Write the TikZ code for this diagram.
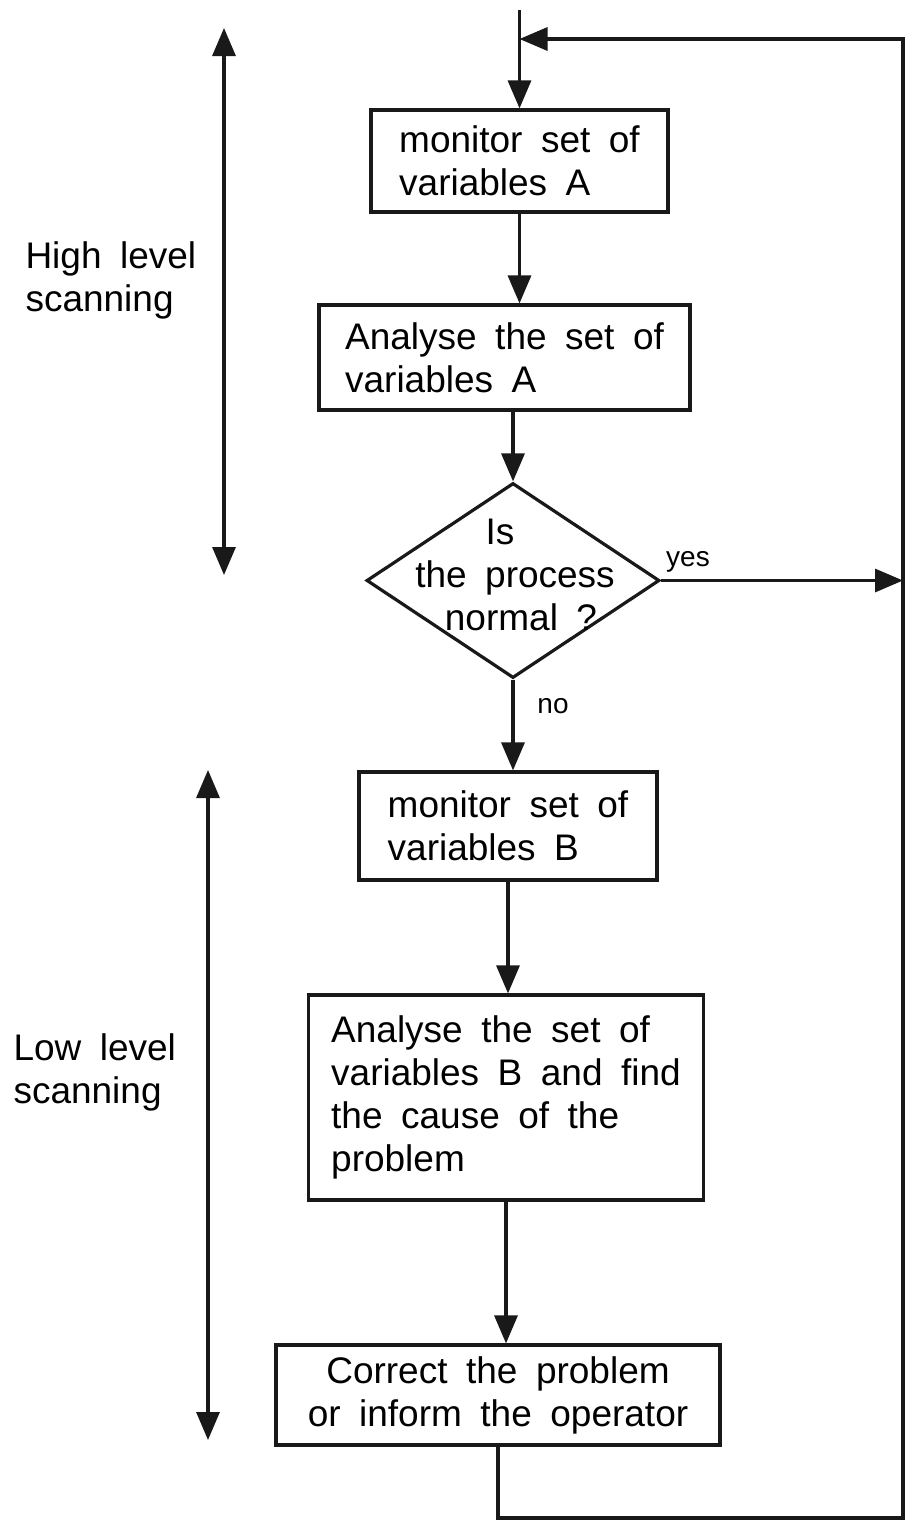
\documentclass[tikz,border=0pt]{standalone}
\usepackage{fontspec}
\setmainfont{Liberation Sans}[WordSpace=1.8]
\usetikzlibrary{arrows.meta,shapes.geometric}

\begin{document}
\begin{tikzpicture}[x=1pt,y=1pt,
  every node/.style={font=\fontsize{37}{43}\selectfont},
  line/.style={line width=3.3pt, draw=black!90},
  tip/.tip={Triangle[length=28pt,width=23pt]},
  arr/.style={line, -tip},
  dbl/.style={line, tip-tip},
  box/.style={draw=black!90, line width=3.2pt, rectangle, inner sep=0pt, align=left},
  dec/.style={draw=black!90, line width=3.2pt, diamond, inner sep=0pt},
  small/.style={font=\fontsize{28}{34}\selectfont},
]
\useasboundingbox (0,0) rectangle (914,-1521);

% process boxes and decision
\node[box, minimum width=297pt, minimum height=102pt] (mA) at (519.5,-161) {monitor set of\\variables A};
\node[box, minimum width=371pt, minimum height=105pt] (aA) at (504.5,-357.5) {Analyse the set of\\variables A};
\node[dec, minimum width=293pt, minimum height=195pt] (q) at (513,-580.5) {};
\node[align=center] (qt) at ([shift={(2,6)}]q.center) {Is\kern30pt\\the process\\\kern12pt normal ?};
\node[box, minimum width=298pt, minimum height=108pt] (mB) at (508,-826) {monitor set of\\variables B};
\node[box, minimum width=395pt, minimum height=205pt] (aB) at (506,-1097.5) {Analyse the set of\\variables B and find\\the cause of the\\problem};
\node[box, minimum width=444pt, minimum height=100pt, align=center] (fix) at (498,-1395) {Correct the problem\\or inform the operator};

% side labels
\node[align=left, anchor=west] (hi) at (22,-280) {High level\\scanning};
\node[align=left, anchor=west] (lo) at (10,-1072) {Low level\\scanning};
\node[small] (yes) at (688,-562) {yes};
\node[small] (no) at (553,-706) {no};

% coordinates of the loop
\coordinate (in) at (519.5,-10);
\coordinate (j) at (519.5,-39);
\coordinate (rb) at (903,-1518);
\coordinate (rt) at (903,-39);

% main flow
\draw[arr] (in) -- (mA.north);
\draw[arr] (mA.south) -- (mA.south |- aA.north);
\draw[arr] (q.north |- aA.south) -- (q.north);
\draw[arr] (q.south) -- (q.south |- mB.north);
\draw[arr] (mB.south) -- (mB.south |- aB.north);
\draw[arr] (aB.south) -- (aB.south |- fix.north);
\draw[arr] (q.east) -- (q.east -| rb);
\draw[arr] (fix.south) |- (rb) -- (rt) -- (j);

% level ranges
\coordinate (h1) at (224,-28);
\coordinate (h2) at (224,-575);
\coordinate (l1) at (208,-770);
\coordinate (l2) at (208,-1440);
\draw[dbl] (h1) -- (h2);
\draw[dbl] (l1) -- (l2);
\end{tikzpicture}
\end{document}
